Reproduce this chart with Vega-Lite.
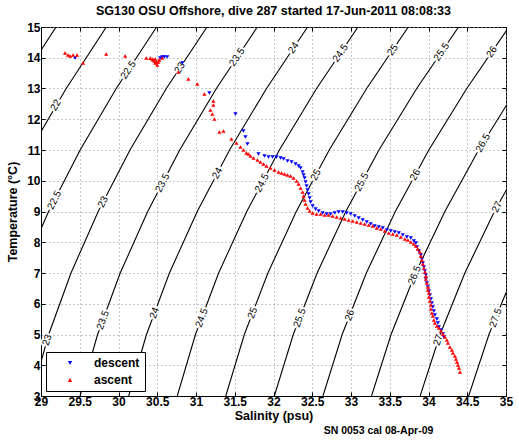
{
  "$schema": "https://vega.github.io/schema/vega-lite/v6.json",
  "width": 465,
  "height": 369,
  "autosize": {"type": "none"},
  "padding": {"left": 41, "top": 27, "right": 13, "bottom": 46},
  "background": "white",
  "title": {"text": "SG130 OSU Offshore, dive 287 started 17-Jun-2011 08:08:33", "font": "Liberation Sans", "fontSize": 12.5, "fontWeight": "bold", "color": "black", "offset": 4, "anchor": "middle"},
  "config": {
    "view": {"stroke": "black", "strokeWidth": 1},
    "axis": {"labelFont": "Liberation Sans", "labelFontWeight": "bold", "labelFontSize": 12, "labelColor": "black", "titleFont": "Liberation Sans", "titleFontWeight": "bold", "titleFontSize": 12.5, "titleColor": "black", "domainColor": "black", "tickColor": "black", "gridColor": "#8c8c8c", "gridDash": [1, 3], "gridOpacity": 1, "labelFlush": false, "labelOverlap": false},
    "legend": {"labelFont": "Liberation Sans", "labelFontWeight": "bold", "labelFontSize": 12, "labelColor": "black"}
  },
  "datasets": {
    "contours": [
      {"sigma": 21.5, "S": 26.997, "T": 3}, {"sigma": 21.5, "S": 27.206, "T": 5}, {"sigma": 21.5, "S": 27.481, "T": 7}, {"sigma": 21.5, "S": 27.820, "T": 9}, {"sigma": 21.5, "S": 28.219, "T": 11}, {"sigma": 21.5, "S": 28.679, "T": 13}, {"sigma": 21.5, "S": 29.194, "T": 15},
      {"sigma": 22, "S": 27.624, "T": 3}, {"sigma": 22, "S": 27.837, "T": 5}, {"sigma": 22, "S": 28.116, "T": 7}, {"sigma": 22, "S": 28.459, "T": 9}, {"sigma": 22, "S": 28.862, "T": 11}, {"sigma": 22, "S": 29.325, "T": 13}, {"sigma": 22, "S": 29.843, "T": 15},
      {"sigma": 22.5, "S": 28.250, "T": 3}, {"sigma": 22.5, "S": 28.468, "T": 5}, {"sigma": 22.5, "S": 28.751, "T": 7}, {"sigma": 22.5, "S": 29.098, "T": 9}, {"sigma": 22.5, "S": 29.505, "T": 11}, {"sigma": 22.5, "S": 29.971, "T": 13}, {"sigma": 22.5, "S": 30.492, "T": 15},
      {"sigma": 23, "S": 28.877, "T": 3}, {"sigma": 23, "S": 29.099, "T": 5}, {"sigma": 23, "S": 29.387, "T": 7}, {"sigma": 23, "S": 29.738, "T": 9}, {"sigma": 23, "S": 30.148, "T": 11}, {"sigma": 23, "S": 30.617, "T": 13}, {"sigma": 23, "S": 31.142, "T": 15},
      {"sigma": 23.5, "S": 29.504, "T": 3}, {"sigma": 23.5, "S": 29.730, "T": 5}, {"sigma": 23.5, "S": 30.022, "T": 7}, {"sigma": 23.5, "S": 30.377, "T": 9}, {"sigma": 23.5, "S": 30.790, "T": 11}, {"sigma": 23.5, "S": 31.263, "T": 13}, {"sigma": 23.5, "S": 31.791, "T": 15},
      {"sigma": 24, "S": 30.131, "T": 3}, {"sigma": 24, "S": 30.361, "T": 5}, {"sigma": 24, "S": 30.657, "T": 7}, {"sigma": 24, "S": 31.016, "T": 9}, {"sigma": 24, "S": 31.433, "T": 11}, {"sigma": 24, "S": 31.910, "T": 13}, {"sigma": 24, "S": 32.440, "T": 15},
      {"sigma": 24.5, "S": 30.758, "T": 3}, {"sigma": 24.5, "S": 30.993, "T": 5}, {"sigma": 24.5, "S": 31.292, "T": 7}, {"sigma": 24.5, "S": 31.655, "T": 9}, {"sigma": 24.5, "S": 32.076, "T": 11}, {"sigma": 24.5, "S": 32.556, "T": 13}, {"sigma": 24.5, "S": 33.090, "T": 15},
      {"sigma": 25, "S": 31.384, "T": 3}, {"sigma": 25, "S": 31.624, "T": 5}, {"sigma": 25, "S": 31.928, "T": 7}, {"sigma": 25, "S": 32.294, "T": 9}, {"sigma": 25, "S": 32.719, "T": 11}, {"sigma": 25, "S": 33.202, "T": 13}, {"sigma": 25, "S": 33.739, "T": 15},
      {"sigma": 25.5, "S": 32.011, "T": 3}, {"sigma": 25.5, "S": 32.255, "T": 5}, {"sigma": 25.5, "S": 32.563, "T": 7}, {"sigma": 25.5, "S": 32.933, "T": 9}, {"sigma": 25.5, "S": 33.361, "T": 11}, {"sigma": 25.5, "S": 33.848, "T": 13}, {"sigma": 25.5, "S": 34.388, "T": 15},
      {"sigma": 26, "S": 32.638, "T": 3}, {"sigma": 26, "S": 32.886, "T": 5}, {"sigma": 26, "S": 33.198, "T": 7}, {"sigma": 26, "S": 33.572, "T": 9}, {"sigma": 26, "S": 34.004, "T": 11}, {"sigma": 26, "S": 34.494, "T": 13}, {"sigma": 26, "S": 35.038, "T": 15},
      {"sigma": 26.5, "S": 33.265, "T": 3}, {"sigma": 26.5, "S": 33.517, "T": 5}, {"sigma": 26.5, "S": 33.833, "T": 7}, {"sigma": 26.5, "S": 34.211, "T": 9}, {"sigma": 26.5, "S": 34.647, "T": 11}, {"sigma": 26.5, "S": 35.140, "T": 13},
      {"sigma": 27, "S": 33.892, "T": 3}, {"sigma": 27, "S": 34.149, "T": 5}, {"sigma": 27, "S": 34.469, "T": 7}, {"sigma": 27, "S": 34.850, "T": 9}, {"sigma": 27, "S": 35.290, "T": 11},
      {"sigma": 27.5, "S": 34.518, "T": 3}, {"sigma": 27.5, "S": 34.780, "T": 5}, {"sigma": 27.5, "S": 35.104, "T": 7}, {"sigma": 27.5, "S": 35.490, "T": 9}
    ],
    "labels": [
      {"label": "22", "S": 29.19, "T": 12.46}, {"label": "22.5", "S": 30.127, "T": 13.6}, {"label": "23", "S": 30.79, "T": 13.67}, {"label": "23.5", "S": 31.53, "T": 14.02},
      {"label": "24", "S": 32.26, "T": 14.32}, {"label": "24.5", "S": 32.863, "T": 14.15}, {"label": "25", "S": 33.538, "T": 14.25}, {"label": "25.5", "S": 34.169, "T": 14.19}, {"label": "26", "S": 34.818, "T": 14.19},
      {"label": "22.5", "S": 29.173, "T": 9.37}, {"label": "23", "S": 29.8, "T": 9.31}, {"label": "23.5", "S": 30.569, "T": 9.93}, {"label": "24", "S": 31.277, "T": 10.25}, {"label": "24.5", "S": 31.851, "T": 9.93},
      {"label": "25", "S": 32.547, "T": 10.19}, {"label": "25.5", "S": 33.138, "T": 9.96}, {"label": "26", "S": 33.829, "T": 10.19}, {"label": "26.5", "S": 34.704, "T": 11.23}, {"label": "27", "S": 34.883, "T": 9.15},
      {"label": "23", "S": 29.079, "T": 4.82}, {"label": "23.5", "S": 29.799, "T": 5.47}, {"label": "24", "S": 30.465, "T": 5.7}, {"label": "24.5", "S": 31.074, "T": 5.54}, {"label": "25", "S": 31.73, "T": 5.7},
      {"label": "25.5", "S": 32.338, "T": 5.54}, {"label": "26", "S": 32.984, "T": 5.63}, {"label": "26.5", "S": 33.822, "T": 6.93}, {"label": "27", "S": 34.126, "T": 4.82}, {"label": "27.5", "S": 34.867, "T": 5.54}
    ],
    "casts": [
      {"cast": "descent", "S": 34.199, "T": 4.919}, {"cast": "descent", "S": 34.186, "T": 5.016}, {"cast": "descent", "S": 34.160, "T": 5.146}, {"cast": "descent", "S": 34.134, "T": 5.244}, {"cast": "descent", "S": 34.121, "T": 5.374}, {"cast": "descent", "S": 34.108, "T": 5.504}, {"cast": "descent", "S": 34.082, "T": 5.634}, {"cast": "descent", "S": 34.069, "T": 5.764}, {"cast": "descent", "S": 34.056, "T": 5.894}, {"cast": "descent", "S": 34.043, "T": 6.024},
      {"cast": "descent", "S": 34.031, "T": 6.155}, {"cast": "descent", "S": 34.018, "T": 6.285}, {"cast": "descent", "S": 34.005, "T": 6.415}, {"cast": "descent", "S": 33.992, "T": 6.545}, {"cast": "descent", "S": 33.979, "T": 6.675}, {"cast": "descent", "S": 33.966, "T": 6.805}, {"cast": "descent", "S": 33.966, "T": 6.935}, {"cast": "descent", "S": 33.953, "T": 7.065}, {"cast": "descent", "S": 33.940, "T": 7.195}, {"cast": "descent", "S": 33.927, "T": 7.325},
      {"cast": "descent", "S": 33.914, "T": 7.455}, {"cast": "descent", "S": 33.901, "T": 7.585}, {"cast": "descent", "S": 33.875, "T": 7.716}, {"cast": "descent", "S": 33.850, "T": 7.846}, {"cast": "descent", "S": 33.837, "T": 7.976}, {"cast": "descent", "S": 33.811, "T": 8.041}, {"cast": "descent", "S": 33.772, "T": 8.138}, {"cast": "descent", "S": 33.720, "T": 8.171}, {"cast": "descent", "S": 33.668, "T": 8.236}, {"cast": "descent", "S": 33.617, "T": 8.301},
      {"cast": "descent", "S": 33.565, "T": 8.333}, {"cast": "descent", "S": 33.513, "T": 8.366}, {"cast": "descent", "S": 33.462, "T": 8.398}, {"cast": "descent", "S": 33.410, "T": 8.463}, {"cast": "descent", "S": 33.358, "T": 8.496}, {"cast": "descent", "S": 33.306, "T": 8.529}, {"cast": "descent", "S": 33.255, "T": 8.594}, {"cast": "descent", "S": 33.203, "T": 8.659}, {"cast": "descent", "S": 33.151, "T": 8.724}, {"cast": "descent", "S": 33.099, "T": 8.789},
      {"cast": "descent", "S": 33.048, "T": 8.854}, {"cast": "descent", "S": 32.996, "T": 8.919}, {"cast": "descent", "S": 32.944, "T": 8.951}, {"cast": "descent", "S": 32.893, "T": 8.984}, {"cast": "descent", "S": 32.841, "T": 8.984}, {"cast": "descent", "S": 32.789, "T": 8.951}, {"cast": "descent", "S": 32.737, "T": 8.919}, {"cast": "descent", "S": 32.686, "T": 8.919}, {"cast": "descent", "S": 32.634, "T": 8.951}, {"cast": "descent", "S": 32.582, "T": 9.016},
      {"cast": "descent", "S": 32.543, "T": 9.081}, {"cast": "descent", "S": 32.505, "T": 9.179}, {"cast": "descent", "S": 32.479, "T": 9.309}, {"cast": "descent", "S": 32.466, "T": 9.439}, {"cast": "descent", "S": 32.453, "T": 9.569}, {"cast": "descent", "S": 32.440, "T": 9.699}, {"cast": "descent", "S": 32.427, "T": 9.829}, {"cast": "descent", "S": 32.414, "T": 9.959}, {"cast": "descent", "S": 32.401, "T": 10.089}, {"cast": "descent", "S": 32.388, "T": 10.187},
      {"cast": "descent", "S": 32.375, "T": 10.285}, {"cast": "descent", "S": 32.349, "T": 10.415}, {"cast": "descent", "S": 32.324, "T": 10.480}, {"cast": "descent", "S": 32.285, "T": 10.545}, {"cast": "descent", "S": 32.233, "T": 10.610}, {"cast": "descent", "S": 32.181, "T": 10.642}, {"cast": "descent", "S": 32.130, "T": 10.707}, {"cast": "descent", "S": 32.091, "T": 10.740}, {"cast": "descent", "S": 32.039, "T": 10.772}, {"cast": "descent", "S": 31.987, "T": 10.772},
      {"cast": "descent", "S": 31.936, "T": 10.772}, {"cast": "descent", "S": 31.884, "T": 10.805}, {"cast": "descent", "S": 31.806, "T": 10.870}, {"cast": "descent", "S": 31.664, "T": 11.195}, {"cast": "descent", "S": 31.638, "T": 11.423}, {"cast": "descent", "S": 31.612, "T": 11.618}, {"cast": "descent", "S": 31.509, "T": 12.171}, {"cast": "descent", "S": 31.173, "T": 12.854}, {"cast": "descent", "S": 30.823, "T": 13.829}, {"cast": "descent", "S": 30.629, "T": 14.024},
      {"cast": "descent", "S": 30.591, "T": 14.024}, {"cast": "descent", "S": 30.565, "T": 14.024}, {"cast": "descent", "S": 30.539, "T": 13.992}, {"cast": "descent", "S": 29.440, "T": 13.992},
      {"cast": "ascent", "S": 34.406, "T": 3.781}, {"cast": "ascent", "S": 34.393, "T": 3.911}, {"cast": "ascent", "S": 34.380, "T": 4.008}, {"cast": "ascent", "S": 34.367, "T": 4.106}, {"cast": "ascent", "S": 34.354, "T": 4.203}, {"cast": "ascent", "S": 34.341, "T": 4.301}, {"cast": "ascent", "S": 34.315, "T": 4.398}, {"cast": "ascent", "S": 34.302, "T": 4.496}, {"cast": "ascent", "S": 34.276, "T": 4.594}, {"cast": "ascent", "S": 34.250, "T": 4.724},
      {"cast": "ascent", "S": 34.237, "T": 4.821}, {"cast": "ascent", "S": 34.212, "T": 4.919}, {"cast": "ascent", "S": 34.186, "T": 5.016}, {"cast": "ascent", "S": 34.160, "T": 5.114}, {"cast": "ascent", "S": 34.134, "T": 5.211}, {"cast": "ascent", "S": 34.108, "T": 5.277}, {"cast": "ascent", "S": 34.082, "T": 5.374}, {"cast": "ascent", "S": 34.069, "T": 5.472}, {"cast": "ascent", "S": 34.056, "T": 5.602}, {"cast": "ascent", "S": 34.043, "T": 5.699},
      {"cast": "ascent", "S": 34.031, "T": 5.829}, {"cast": "ascent", "S": 34.031, "T": 5.959}, {"cast": "ascent", "S": 34.018, "T": 6.090}, {"cast": "ascent", "S": 34.005, "T": 6.220}, {"cast": "ascent", "S": 34.005, "T": 6.350}, {"cast": "ascent", "S": 33.992, "T": 6.447}, {"cast": "ascent", "S": 33.992, "T": 6.545}, {"cast": "ascent", "S": 33.979, "T": 6.675}, {"cast": "ascent", "S": 33.966, "T": 6.805}, {"cast": "ascent", "S": 33.966, "T": 6.903},
      {"cast": "ascent", "S": 33.953, "T": 7.033}, {"cast": "ascent", "S": 33.940, "T": 7.163}, {"cast": "ascent", "S": 33.927, "T": 7.293}, {"cast": "ascent", "S": 33.914, "T": 7.423}, {"cast": "ascent", "S": 33.901, "T": 7.553}, {"cast": "ascent", "S": 33.888, "T": 7.683}, {"cast": "ascent", "S": 33.862, "T": 7.781}, {"cast": "ascent", "S": 33.837, "T": 7.878}, {"cast": "ascent", "S": 33.811, "T": 7.943}, {"cast": "ascent", "S": 33.772, "T": 8.008},
      {"cast": "ascent", "S": 33.733, "T": 8.073}, {"cast": "ascent", "S": 33.694, "T": 8.106}, {"cast": "ascent", "S": 33.643, "T": 8.171}, {"cast": "ascent", "S": 33.591, "T": 8.236}, {"cast": "ascent", "S": 33.539, "T": 8.268}, {"cast": "ascent", "S": 33.487, "T": 8.301}, {"cast": "ascent", "S": 33.436, "T": 8.366}, {"cast": "ascent", "S": 33.384, "T": 8.431}, {"cast": "ascent", "S": 33.332, "T": 8.463}, {"cast": "ascent", "S": 33.281, "T": 8.529},
      {"cast": "ascent", "S": 33.229, "T": 8.561}, {"cast": "ascent", "S": 33.177, "T": 8.594}, {"cast": "ascent", "S": 33.125, "T": 8.626}, {"cast": "ascent", "S": 33.074, "T": 8.659}, {"cast": "ascent", "S": 33.022, "T": 8.691}, {"cast": "ascent", "S": 32.970, "T": 8.724}, {"cast": "ascent", "S": 32.918, "T": 8.756}, {"cast": "ascent", "S": 32.867, "T": 8.789}, {"cast": "ascent", "S": 32.815, "T": 8.821}, {"cast": "ascent", "S": 32.763, "T": 8.854},
      {"cast": "ascent", "S": 32.711, "T": 8.886}, {"cast": "ascent", "S": 32.660, "T": 8.886}, {"cast": "ascent", "S": 32.608, "T": 8.919}, {"cast": "ascent", "S": 32.556, "T": 8.919}, {"cast": "ascent", "S": 32.505, "T": 8.951}, {"cast": "ascent", "S": 32.466, "T": 9.016}, {"cast": "ascent", "S": 32.440, "T": 9.114}, {"cast": "ascent", "S": 32.414, "T": 9.244}, {"cast": "ascent", "S": 32.401, "T": 9.374}, {"cast": "ascent", "S": 32.388, "T": 9.504},
      {"cast": "ascent", "S": 32.375, "T": 9.634}, {"cast": "ascent", "S": 32.349, "T": 9.764}, {"cast": "ascent", "S": 32.324, "T": 9.894}, {"cast": "ascent", "S": 32.298, "T": 9.992}, {"cast": "ascent", "S": 32.259, "T": 10.089}, {"cast": "ascent", "S": 32.220, "T": 10.155}, {"cast": "ascent", "S": 32.181, "T": 10.187}, {"cast": "ascent", "S": 32.143, "T": 10.220}, {"cast": "ascent", "S": 32.104, "T": 10.252}, {"cast": "ascent", "S": 32.065, "T": 10.285},
      {"cast": "ascent", "S": 32.013, "T": 10.350}, {"cast": "ascent", "S": 31.961, "T": 10.415}, {"cast": "ascent", "S": 31.910, "T": 10.480}, {"cast": "ascent", "S": 31.871, "T": 10.545}, {"cast": "ascent", "S": 31.832, "T": 10.610}, {"cast": "ascent", "S": 31.793, "T": 10.675}, {"cast": "ascent", "S": 31.742, "T": 10.740}, {"cast": "ascent", "S": 31.703, "T": 10.805}, {"cast": "ascent", "S": 31.677, "T": 10.870}, {"cast": "ascent", "S": 31.651, "T": 10.902},
      {"cast": "ascent", "S": 31.612, "T": 11.000}, {"cast": "ascent", "S": 31.574, "T": 11.098}, {"cast": "ascent", "S": 31.522, "T": 11.228}, {"cast": "ascent", "S": 31.457, "T": 11.358}, {"cast": "ascent", "S": 31.354, "T": 11.618}, {"cast": "ascent", "S": 31.302, "T": 11.585}, {"cast": "ascent", "S": 31.237, "T": 12.008}, {"cast": "ascent", "S": 31.211, "T": 12.171}, {"cast": "ascent", "S": 31.186, "T": 12.301}, {"cast": "ascent", "S": 31.224, "T": 12.463},
      {"cast": "ascent", "S": 31.224, "T": 12.594}, {"cast": "ascent", "S": 31.108, "T": 12.821}, {"cast": "ascent", "S": 31.017, "T": 13.146}, {"cast": "ascent", "S": 30.901, "T": 13.309}, {"cast": "ascent", "S": 30.772, "T": 13.537}, {"cast": "ascent", "S": 30.565, "T": 13.992}, {"cast": "ascent", "S": 30.513, "T": 13.862}, {"cast": "ascent", "S": 30.500, "T": 13.764}, {"cast": "ascent", "S": 30.474, "T": 13.829}, {"cast": "ascent", "S": 30.461, "T": 13.894},
      {"cast": "ascent", "S": 30.435, "T": 13.959}, {"cast": "ascent", "S": 30.448, "T": 13.927}, {"cast": "ascent", "S": 30.487, "T": 13.862}, {"cast": "ascent", "S": 30.410, "T": 13.990}, {"cast": "ascent", "S": 30.526, "T": 13.930}, {"cast": "ascent", "S": 30.474, "T": 13.960}, {"cast": "ascent", "S": 30.358, "T": 13.992}, {"cast": "ascent", "S": 30.086, "T": 14.057}, {"cast": "ascent", "S": 29.841, "T": 14.122}, {"cast": "ascent", "S": 29.543, "T": 13.829},
      {"cast": "ascent", "S": 29.466, "T": 14.089}, {"cast": "ascent", "S": 29.414, "T": 14.089}, {"cast": "ascent", "S": 29.375, "T": 14.057}, {"cast": "ascent", "S": 29.349, "T": 14.089}, {"cast": "ascent", "S": 29.310, "T": 14.154}
    ]
  },
  "resolve": {"axis": {"x": "independent", "y": "independent"}},
  "layer": [
    {
      "data": {"name": "contours"},
      "mark": {"type": "line", "color": "black", "strokeWidth": 1.1, "clip": true},
      "encoding": {
        "x": {"field": "S", "type": "quantitative", "scale": {"domain": [29, 35], "nice": false, "zero": false},
              "axis": {"orient": "bottom", "title": "Salinity (psu)", "values": [29, 29.5, 30, 30.5, 31, 31.5, 32, 32.5, 33, 33.5, 34, 34.5, 35], "format": "~g", "grid": true, "tickSize": -4, "labelPadding": 4, "titlePadding": 2}},
        "y": {"field": "T", "type": "quantitative", "scale": {"domain": [3, 15], "nice": false, "zero": false},
              "axis": {"orient": "left", "title": "Temperature (°C)", "values": [3, 4, 5, 6, 7, 8, 9, 10, 11, 12, 13, 14, 15], "grid": true, "tickSize": -4, "labelPadding": 5, "titlePadding": 7}},
        "detail": {"field": "sigma", "type": "nominal"},
        "order": {"field": "T", "type": "quantitative"}
      }
    },
    {
      "data": {"name": "labels"},
      "mark": {"type": "text", "font": "Liberation Sans", "fontSize": 10, "fill": "white", "stroke": "white", "strokeWidth": 4, "align": "center", "baseline": "middle"},
      "encoding": {
        "x": {"field": "S", "type": "quantitative", "scale": {"domain": [29, 35], "nice": false, "zero": false},
              "axis": {"orient": "bottom", "title": "SN 0053 cal 08-Apr-09", "titleFontSize": 10.5, "titleX": 337, "titleY": 34, "titleAlign": "center", "titleBaseline": "middle", "labels": false, "ticks": false, "domain": false, "grid": false}},
        "y": {"field": "T", "type": "quantitative", "scale": {"domain": [3, 15], "nice": false, "zero": false}, "axis": null},
        "text": {"field": "label"},
        "angle": {"field": "T", "type": "quantitative", "scale": {"domain": [3, 15], "range": [286, 305.6]}, "legend": null}
      }
    },
    {
      "data": {"name": "labels"},
      "mark": {"type": "text", "font": "Liberation Sans", "fontSize": 10, "color": "black", "align": "center", "baseline": "middle"},
      "encoding": {
        "x": {"field": "S", "type": "quantitative", "scale": {"domain": [29, 35], "nice": false, "zero": false}, "axis": null},
        "y": {"field": "T", "type": "quantitative", "scale": {"domain": [3, 15], "nice": false, "zero": false}, "axis": null},
        "text": {"field": "label"},
        "angle": {"field": "T", "type": "quantitative", "scale": {"domain": [3, 15], "range": [286, 305.6]}, "legend": null}
      }
    },
    {
      "data": {"name": "casts"},
      "mark": {"type": "point", "filled": true, "size": 18, "opacity": 1},
      "encoding": {
        "x": {"field": "S", "type": "quantitative", "scale": {"domain": [29, 35], "nice": false, "zero": false},
              "axis": {"orient": "top", "title": null, "labels": false, "grid": false, "domain": false, "tickSize": -4, "values": [29, 29.5, 30, 30.5, 31, 31.5, 32, 32.5, 33, 33.5, 34, 34.5, 35]}},
        "y": {"field": "T", "type": "quantitative", "scale": {"domain": [3, 15], "nice": false, "zero": false},
              "axis": {"orient": "right", "title": null, "labels": false, "grid": false, "domain": false, "tickSize": -4, "values": [3, 4, 5, 6, 7, 8, 9, 10, 11, 12, 13, 14, 15]}},
        "color": {"field": "cast", "type": "nominal", "scale": {"domain": ["descent", "ascent"], "range": ["#0000ff", "#ff0000"]},
                  "legend": {"title": null, "orient": "bottom-left", "offset": 5, "strokeColor": "black", "fillColor": "white", "padding": 5, "symbolOffset": 13, "labelOffset": 18, "rowPadding": 5, "symbolSize": 20}},
        "shape": {"field": "cast", "type": "nominal", "scale": {"domain": ["descent", "ascent"], "range": ["triangle-down", "triangle-up"]}}
      }
    }
  ]
}
